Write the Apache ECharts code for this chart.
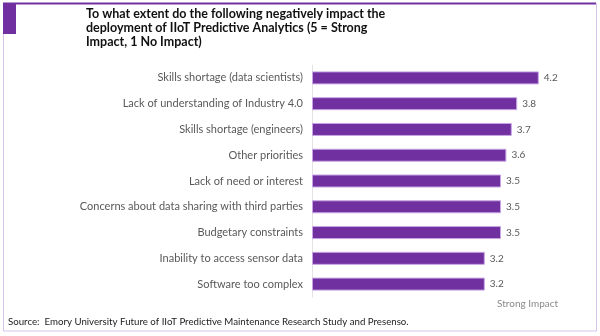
<!DOCTYPE html>
<html>
<head>
<meta charset="utf-8">
<script src="https://cdn.jsdelivr.net/npm/echarts@6/dist/echarts.min.js"></script>
<style>
  html, body { margin: 0; padding: 0; background: #ffffff; }
  #chart { width: 600px; height: 336px; }
</style>
</head>
<body>
<div id="chart"></div>
<script>
// Survey responses: average impact rating per barrier (5 = strong, 1 = none)
const categories = [
  'Skills shortage (data scientists)',
  'Lack of understanding of Industry 4.0',
  'Skills shortage (engineers)',
  'Other priorities',
  'Lack of need or interest',
  'Concerns about data sharing with third parties',
  'Budgetary constraints',
  'Inability to access sensor data',
  'Software too complex'
];
const ratings = [4.2, 3.8, 3.7, 3.6, 3.5, 3.5, 3.5, 3.2, 3.2];

const titleLines = [
  'To what extent do the following negatively impact the',
  'deployment of IIoT Predictive Analytics (5 = Strong',
  'Impact, 1 No Impact)'
];
const sourceNote = 'Source:  Emory University Future of IIoT Predictive Maintenance Research Study and Presenso.';
const scaleNote = 'Strong Impact';

const FONT = 'Lato, "Open Sans", sans-serif';
const PURPLE = '#7030A0';
const FRAME = '#d7c3ea';

const chart = echarts.init(document.getElementById('chart'), null, { renderer: 'canvas' });

chart.setOption({
  animation: false,
  backgroundColor: '#ffffff',
  grid: { left: 312, top: 65, width: 270, height: 232, containLabel: false },
  xAxis: {
    type: 'value',
    min: 0,
    max: 5,
    show: false
  },
  yAxis: {
    type: 'category',
    inverse: true,
    data: categories,
    axisLine: { show: true, lineStyle: { color: '#e3e3e3', width: 1 } },
    axisTick: { show: false },
    axisLabel: {
      color: '#595959',
      fontFamily: FONT,
      fontSize: 11,
      margin: 9
    }
  },
  series: [{
    type: 'bar',
    data: ratings,
    barWidth: 13,
    itemStyle: {
      color: PURPLE,
      borderColor: '#c7a5e3',
      borderWidth: 1
    },
    label: {
      show: true,
      position: 'right',
      distance: 5,
      color: '#595959',
      fontFamily: FONT,
      fontSize: 10,
      formatter: p => p.value.toFixed(1)
    }
  }],
  graphic: [
    // outer frame
    { type: 'rect', shape: { x: 3.5, y: 3.5, width: 593, height: 327.5 },
      style: { fill: 'none', stroke: FRAME, lineWidth: 1 }, silent: true },
    { type: 'line', shape: { x1: 3, y1: 3.5, x2: 596, y2: 3.5 },
      style: { stroke: PURPLE, lineWidth: 2 }, silent: true },
    { type: 'rect', shape: { x: 3, y: 3, width: 13, height: 31 },
      style: { fill: PURPLE }, silent: true },
    // heading
    { type: 'text', left: 86, top: 7,
      style: { text: titleLines.join('\n'), font: 'bold 12.5px ' + FONT,
               fill: '#111111', lineHeight: 14 } },
    // scale note under the bars
    { type: 'text', left: 497, top: 299,
      style: { text: scaleNote, font: '10px ' + FONT, fill: '#8a8a8a' } },
    // source line
    { type: 'text', left: 8, top: 317,
      style: { text: sourceNote, font: '9.7px ' + FONT, fill: '#222222' } }
  ]
});
</script>
</body>
</html>
